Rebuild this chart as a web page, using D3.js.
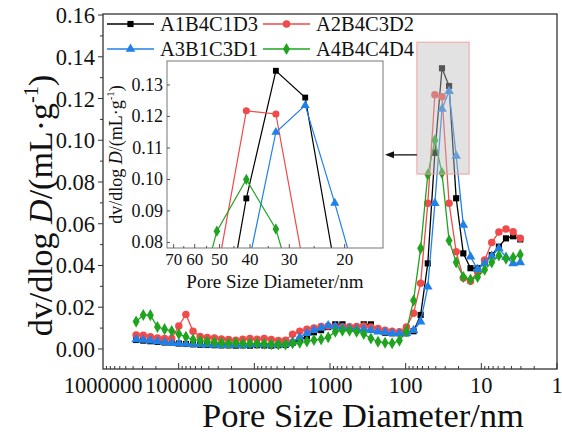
<!DOCTYPE html>
<html>
<head>
<meta charset="utf8">
<style>
body { margin: 0; background: #fff; }
text { font-family: "Liberation Serif", "Times New Roman", serif; fill: #111; }
</style>
</head>
<body>
<div id="canvas"></div>
<script src="https://cdn.jsdelivr.net/npm/d3@7"></script>
<script>
// pore diameters (nm), shared by the four samples
const diameters = [364800, 293800, 236600, 190500, 153500, 123600, 99500, 80200, 64600, 52000,
  41900, 33700, 27200, 21900, 17600, 14200, 11430, 9200, 7410, 5970,
  4810, 3870, 3120, 2510, 2020, 1630, 1310, 1057, 851, 685,
  552, 445, 358, 288, 232, 187, 151, 121, 97.7, 78.7,
  63.4, 51.0, 41.1, 33.1, 26.7, 21.5, 17.3, 13.9, 11.2, 9.04,
  7.28, 5.86, 4.72, 3.80, 3.06];

// dV/dlogD (mL/g)
const a1b4c1d3 = [0.0043, 0.0040, 0.0037, 0.0034, 0.0031, 0.0030, 0.0026, 0.0024, 0.0022, 0.0020,
  0.0019, 0.0018, 0.0017, 0.0017, 0.0016, 0.0017, 0.0016, 0.0018, 0.0017, 0.0016,
  0.0018, 0.0019, 0.0030, 0.0045, 0.0060, 0.0080, 0.0090, 0.0105, 0.0118, 0.0118,
  0.0100, 0.0100, 0.0118, 0.0118, 0.0088, 0.0078, 0.0075, 0.0075, 0.0075, 0.0085,
  0.0163, 0.0410, 0.0940, 0.1345, 0.1260, 0.0722, 0.0458, 0.0387, 0.0387, 0.0415,
  0.0450, 0.0490, 0.0530, 0.0540, 0.0525];
const a2b4c3d2 = [0.0067, 0.0066, 0.0058, 0.0052, 0.0050, 0.0050, 0.0110, 0.0165, 0.0085, 0.0060,
  0.0055, 0.0052, 0.0048, 0.0045, 0.0042, 0.0046, 0.0050, 0.0046, 0.0050, 0.0045,
  0.0040, 0.0042, 0.0070, 0.0085, 0.0095, 0.0100, 0.0108, 0.0110, 0.0107, 0.0106,
  0.0107, 0.0108, 0.0110, 0.0105, 0.0098, 0.0090, 0.0085, 0.0083, 0.0105, 0.0171,
  0.0315, 0.0698, 0.1218, 0.1208, 0.0698, 0.0466, 0.0340, 0.0325, 0.0370, 0.0426,
  0.0510, 0.0560, 0.0575, 0.0562, 0.0530];
const a3b1c3d1 = [0.0046, 0.0043, 0.0040, 0.0036, 0.0032, 0.0028, 0.0026, 0.0024, 0.0023, 0.0021,
  0.0020, 0.0019, 0.0018, 0.0018, 0.0019, 0.0018, 0.0020, 0.0021, 0.0022, 0.0020,
  0.0021, 0.0023, 0.0035, 0.0055, 0.0075, 0.0090, 0.0100, 0.0112, 0.0108, 0.0100,
  0.0098, 0.0095, 0.0094, 0.0090, 0.0083, 0.0080, 0.0075, 0.0074, 0.0075, 0.0090,
  0.0131, 0.0298, 0.0698, 0.1150, 0.1235, 0.0925, 0.0594, 0.0442, 0.0382, 0.0410,
  0.0445, 0.0482, 0.0440, 0.0410, 0.0415];
const a4b4c4d4 = [0.0131, 0.0163, 0.0162, 0.0105, 0.0095, 0.0086, 0.0072, 0.0058, 0.0045, 0.0040,
  0.0036, 0.0032, 0.0030, 0.0027, 0.0030, 0.0026, 0.0027, 0.0026, 0.0025, 0.0023,
  0.0022, 0.0021, 0.0027, 0.0030, 0.0036, 0.0043, 0.0046, 0.0056, 0.0083, 0.0088,
  0.0088, 0.0083, 0.0072, 0.0050, 0.0035, 0.0030, 0.0027, 0.0040, 0.0085, 0.0232,
  0.0482, 0.0836, 0.1000, 0.0843, 0.0520, 0.0415, 0.0345, 0.0333, 0.0345, 0.0380,
  0.0415, 0.0448, 0.0432, 0.0438, 0.0452];

const seriesNames = ["A1B4C1D3", "A2B4C3D2", "A3B1C3D1", "A4B4C4D4"];
const seriesValues = [a1b4c1d3, a2b4c3d2, a3b1c3d1, a4b4c4d4];
const seriesColors = ["#000000", "#f04a4a", "#2080e8", "#1fa41f"];
const seriesSymbols = [d3.symbolSquare, d3.symbolCircle, d3.symbolTriangle, d3.symbolDiamond];
const symbolSizes = [38, 44, 40, 42];

const xTickLabels = [1000000, 100000, 10000, 1000, 100, 10, 1];
const yTickLabels = [0, 0.02, 0.04, 0.06, 0.08, 0.10, 0.12, 0.14, 0.16];
const insetXTickLabels = [70, 60, 50, 40, 30, 20];
const insetYTickLabels = [0.08, 0.09, 0.10, 0.11, 0.12, 0.13];

// zoomed region (diameter range, value range) and arrow level
const zoomD = [71, 14.5];
const zoomV = [0.0838, 0.147];
const arrowV = 0.093;

const W = 562, H = 439;
const svg = d3.select("#canvas").append("svg")
  .attr("width", W).attr("height", H)
  .attr("viewBox", `0 0 ${W} ${H}`);

const plot = { l: 103, r: 557, t: 14, b: 369 };
const x = d3.scaleLog().domain([1e6, 1]).range([plot.l, plot.r]);
const y = d3.scaleLinear().domain([-0.0096, 0.1605]).range([plot.b, plot.t]);

const inset = { l: 167, r: 383, t: 61, b: 248 };
const xi = d3.scaleLog().domain([73.5, 15.1]).range([inset.l, inset.r]);
const yi = d3.scaleLinear().domain([0.07825, 0.1376]).range([inset.b, inset.t]);

const rows = seriesValues.map(vals => diameters.map((d, i) => ({ d: d, v: vals[i] })));

// ---- main axes ----
// bottom ticks (inward), log minors
const xt = svg.append("g");
d3.range(0, 6).forEach(e => {
  for (let m = 1; m < 10; m++) {
    const v = m * Math.pow(10, e);
    const px = x(v);
    xt.append("line").attr("x1", px).attr("x2", px)
      .attr("y1", plot.b).attr("y2", plot.b - (m === 1 ? 6 : 3))
      .attr("stroke", "#333").attr("stroke-width", 1);
  }
});
xTickLabels.forEach(v => {
  xt.append("text").attr("x", x(v)).attr("y", 393)
    .attr("text-anchor", "middle").attr("font-size", 22.5).text(v);
});

// left ticks (outward)
const yt = svg.append("g");
d3.range(0, 17).forEach(i => {
  const v = i * 0.01;
  yt.append("line").attr("x1", plot.l).attr("x2", plot.l - (i % 2 === 0 ? 5 : 3))
    .attr("y1", y(v)).attr("y2", y(v)).attr("stroke", "#333").attr("stroke-width", 1);
});
yTickLabels.forEach(v => {
  yt.append("text").attr("x", 95).attr("y", y(v) + 8)
    .attr("text-anchor", "end").attr("font-size", 22.5).text(v.toFixed(2));
});

// axis titles
svg.append("text").attr("x", (plot.l + plot.r) / 2 + 33).attr("y", 427)
  .attr("text-anchor", "middle").attr("font-size", 34.5).text("Pore Size Diameter/nm");

function yTitle(g, size) {
  g.append("tspan").text("dv/dlog ");
  g.append("tspan").attr("font-style", "italic").text("D");
  g.append("tspan").text("/(mL·g");
  g.append("tspan").attr("dy", -size * 0.42).attr("font-size", size * 0.6).text("-1");
  g.append("tspan").attr("dy", size * 0.42).text(")");
}
const yTitleMain = svg.append("text")
  .attr("transform", `translate(52,${(plot.t + plot.b) / 2 + 14}) rotate(-90)`)
  .attr("text-anchor", "middle").attr("font-size", 34);
yTitle(yTitleMain, 34);

// ---- main series ----
const line = d3.line().x(p => x(p.d)).y(p => y(p.v));
rows.forEach((r, s) => {
  svg.append("path").datum(r)
    .attr("fill", "none").attr("stroke", seriesColors[s]).attr("stroke-width", 1.3)
    .attr("d", line);
  svg.append("g").selectAll("path").data(r).join("path")
    .attr("transform", p => `translate(${x(p.d)},${y(p.v)})`)
    .attr("d", d3.symbol().type(seriesSymbols[s]).size(symbolSizes[s]))
    .attr("fill", seriesColors[s]);
});

// zoom box
svg.append("rect")
  .attr("x", x(zoomD[0])).attr("y", y(zoomV[1]))
  .attr("width", x(zoomD[1]) - x(zoomD[0])).attr("height", y(zoomV[0]) - y(zoomV[1]))
  .attr("fill", "rgba(190,190,190,0.45)").attr("stroke", "#f2a0a0").attr("stroke-width", 1);

// arrow to inset
const ay = y(arrowV);
svg.append("line").attr("x1", x(zoomD[0])).attr("x2", inset.r + 8)
  .attr("y1", ay).attr("y2", ay).attr("stroke", "#111").attr("stroke-width", 1.3);
svg.append("path")
  .attr("d", `M${inset.r + 2},${ay} L${inset.r + 11},${ay - 3.5} L${inset.r + 11},${ay + 3.5} Z`)
  .attr("fill", "#111");

// ---- inset ----
svg.append("rect").attr("x", inset.l).attr("y", inset.t)
  .attr("width", inset.r - inset.l).attr("height", inset.b - inset.t)
  .attr("fill", "#fff");
svg.append("clipPath").attr("id", "insetClip").append("rect")
  .attr("x", inset.l).attr("y", inset.t)
  .attr("width", inset.r - inset.l).attr("height", inset.b - inset.t);
const ig = svg.append("g").attr("clip-path", "url(#insetClip)");
const lineI = d3.line().x(p => xi(p.d)).y(p => yi(p.v));
rows.forEach((r, s) => {
  ig.append("path").datum(r)
    .attr("fill", "none").attr("stroke", seriesColors[s]).attr("stroke-width", 1.2)
    .attr("d", lineI);
  ig.append("g").selectAll("path").data(r).join("path")
    .attr("transform", p => `translate(${xi(p.d)},${yi(p.v)})`)
    .attr("d", d3.symbol().type(seriesSymbols[s]).size(symbolSizes[s] * 0.9))
    .attr("fill", seriesColors[s]);
});
svg.append("rect").attr("x", inset.l).attr("y", inset.t)
  .attr("width", inset.r - inset.l).attr("height", inset.b - inset.t)
  .attr("fill", "none").attr("stroke", "#777").attr("stroke-width", 1);

// inset ticks
for (let v = 20; v <= 70; v += 5) {
  const px = xi(v);
  svg.append("line").attr("x1", px).attr("x2", px)
    .attr("y1", inset.b).attr("y2", inset.b - (v % 10 === 0 ? 4 : 2))
    .attr("stroke", "#555");
}
insetXTickLabels.forEach(v => {
  svg.append("text").attr("x", xi(v)).attr("y", 265)
    .attr("text-anchor", "middle").attr("font-size", 17).text(v);
});
insetYTickLabels.forEach(v => {
  svg.append("line").attr("x1", inset.l).attr("x2", inset.l + 3)
    .attr("y1", yi(v)).attr("y2", yi(v)).attr("stroke", "#555");
  svg.append("text").attr("x", 163).attr("y", yi(v) + 6)
    .attr("text-anchor", "end").attr("font-size", 18).text(v.toFixed(2));
});
svg.append("text").attr("x", (inset.l + inset.r) / 2).attr("y", 288)
  .attr("text-anchor", "middle").attr("font-size", 19).text("Pore Size Diameter/nm");
const yTitleInset = svg.append("text")
  .attr("transform", `translate(122,${(inset.t + inset.b) / 2}) rotate(-90)`)
  .attr("text-anchor", "middle").attr("font-size", 18);
yTitle(yTitleInset, 18);

// ---- legend ----
const legendPos = [[107, 24], [263, 24], [107, 49], [263, 49]];
seriesNames.forEach((name, s) => {
  const [lx, ly] = legendPos[s];
  const g = svg.append("g");
  g.append("line").attr("x1", lx).attr("x2", lx + 47).attr("y1", ly).attr("y2", ly)
    .attr("stroke", seriesColors[s]).attr("stroke-width", 1.3);
  g.append("path").attr("transform", `translate(${lx + 23.5},${ly})`)
    .attr("d", d3.symbol().type(seriesSymbols[s]).size(symbolSizes[s]))
    .attr("fill", seriesColors[s]);
  g.append("text").attr("x", lx + 53).attr("y", ly + 7)
    .attr("font-size", 20.5).text(name);
});

// frame
svg.append("rect").attr("x", plot.l).attr("y", plot.t)
  .attr("width", plot.r - plot.l).attr("height", plot.b - plot.t)
  .attr("fill", "none").attr("stroke", "#333").attr("stroke-width", 1.3);
</script>
</body>
</html>
